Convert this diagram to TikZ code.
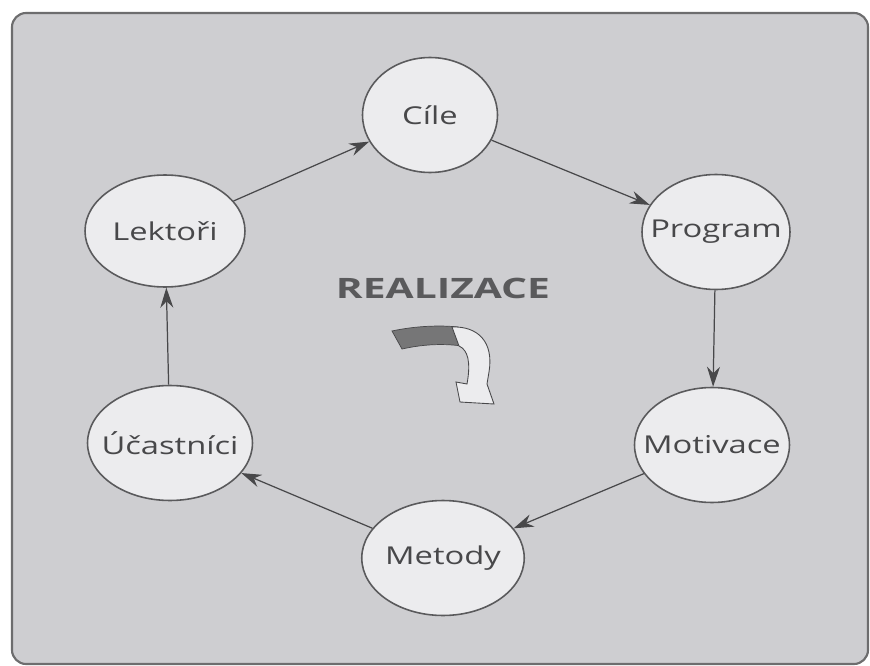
\documentclass[tikz,border=0pt]{standalone}
\usepackage{fontspec}
\setmainfont{Open Sans}
\newfontfamily\widesans[FakeStretch=1.33]{Open Sans}
\newfontfamily\titlesans[FakeStretch=1.45]{Open Sans}
\usepackage{tikz}
\usetikzlibrary{arrows.meta,shapes.geometric}
\definecolor{paper}{RGB}{206,206,209}
\definecolor{bubble}{RGB}{236,236,238}
\definecolor{ink}{RGB}{72,72,74}
\tikzset{%
	stage/.style = {draw=ink!90, line width=0.9pt, fill=bubble, ellipse, inner sep=0pt, minimum width=3.2cm, minimum height=2.3cm, text=ink, font=\widesans\fontsize{14}{16}\selectfont},
	arrow/.style = {draw=ink, line width=0.7pt, -{Stealth[length=4mm,width=2.6mm]}},
}
\newcommand{\lbl}[1]{\makebox[0pt]{#1}}

\begin{document}
\begin{tikzpicture}[x=0.02cm,y=-0.02cm]
		\useasboundingbox (0,0) rectangle (870,666);
		\fill[white] (0,0) rectangle (870,666);
		% frame
		\draw[fill=paper, draw=ink!80, line width=1.2pt, rounded corners=8] (12,13) rectangle (868,664);
		
		% stages of the cycle
		\node[stage, minimum width=2.7cm] (cile) at (430,115) {\lbl{Cíle}};
		\node[stage, minimum width=2.96cm] (prog) at (716,232) {\lbl{Program}};
		\node[stage, minimum width=3.1cm] (moti) at (712,445) {\lbl{Motivace}};
		\node[stage, minimum width=3.25cm] (meto) at (443,558) {\lbl{Metody}};
		\node[stage, minimum width=3.3cm] (ucas) at (170,443) {\lbl{Účastníci}};
		\node[stage, minimum height=2.24cm] (lekt) at (165,231) {\lbl{Lektoři}};
		
		\draw[arrow] (lekt) -- (cile);
		\draw[arrow] (cile) -- (prog);
		\draw[arrow] (prog) -- (moti);
		\draw[arrow] (moti) -- (meto);
		\draw[arrow] (meto) -- (ucas);
		\draw[arrow] (ucas) -- (lekt);
		
		% centre
		\node[text=ink!90, font=\titlesans\fontsize{16}{18}\bfseries] (real) at (443,288) {REALIZACE};
		\draw[fill=ink!75, draw=ink, line width=0.4pt] (392,331) .. controls (415,326) and (440,325) .. (458,327) -- (462,346) .. controls (440,343) and (420,345) .. (402,349) -- cycle;
		\draw[fill=bubble, draw=ink, line width=0.5pt] (452,327) .. controls (478,326) and (494,342) .. (489,372) -- (487,384) -- (494,404) -- (460,402) -- (456,382) -- (467,384) .. controls (471,362) and (468,350) .. (459,346) -- cycle;
		
\end{tikzpicture}
\end{document}
